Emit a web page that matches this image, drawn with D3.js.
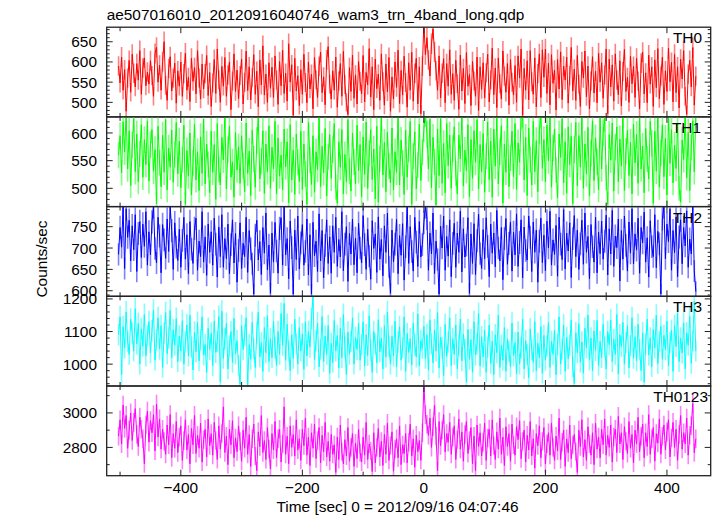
<!DOCTYPE html>
<html><head><meta charset="utf-8">
<script src="https://cdn.jsdelivr.net/npm/d3@7/dist/d3.min.js"></script>
<style>
body{margin:0;background:#fff}
svg{display:block}
text{font-family:"Liberation Sans",Arial,Helvetica,sans-serif;fill:#000}
</style>
</head><body>
<svg id="chart" width="717" height="516"></svg>
<script>
// ---- data (light curves, 2.5 s bins starting at t = -502.5 s) ----
const tStart = -502.5, tBin = 2.5;
const titleText = "ae507016010_20120916040746_wam3_trn_4band_long.qdp";
const xLabel = "Time [sec] 0 = 2012/09/16 04:07:46";
const yLabel = "Counts/sec";
const bandNames = ["TH0", "TH1", "TH2", "TH3", "TH0123"];
const xTickLabels = [-400, -200, 0, 200, 400];

const th0 = [
590,548,612,530,581,478,560,604,525,619,572,538,596,555,628,520,585,610,541,575,
545,603,566,515,621,636,550,592,530,601,650,542,505,584,613,528,560,597,498,578,
540,600,515,571,622,530,562,502,609,552,586,521,628,560,508,595,533,571,616,517,
574,490,548,606,522,632,556,500,589,540,611,515,568,600,482,553,620,527,580,509,
566,607,496,550,627,529,588,506,561,618,520,577,489,605,543,640,518,570,500,598,
535,587,512,615,555,495,601,541,629,522,572,503,645,550,593,468,609,528,566,492,
581,520,619,549,499,600,533,570,484,611,556,512,589,624,524,563,494,605,638,545,
508,578,530,612,488,553,596,515,626,544,500,470,586,527,617,510,568,496,601,552,
521,616,501,574,543,633,513,588,482,607,534,570,505,620,551,493,595,526,611,478,
563,508,600,537,629,497,579,518,614,549,488,598,530,624,503,572,609,496,588,472,
590,695,618,660,605,565,645,682,625,578,530,615,511,572,608,499,596,540,630,520,
571,505,604,546,483,617,528,584,497,623,540,569,492,601,553,515,612,480,588,532,
598,511,573,619,501,556,634,519,585,487,610,546,508,627,565,525,596,493,606,550,
518,591,500,615,560,632,468,584,530,603,506,628,551,520,610,489,571,620,512,630,
562,632,522,597,494,618,547,580,481,606,533,625,507,590,555,612,498,566,636,528,
582,505,616,545,490,601,560,627,514,590,484,553,613,523,577,499,622,550,598,510,
568,632,472,607,538,593,503,620,555,519,603,491,576,631,527,562,500,614,546,589,
512,609,553,484,597,624,521,573,499,617,545,588,490,605,536,633,509,565,612,495,
578,527,634,551,599,501,619,524,588,486,607,558,628,515,470,570,604,538,636,493,
565];

const th1 = [
560,595,528,620,566,634,535,604,505,578,626,530,598,512,562,615,520,588,543,622,
513,579,606,531,570,472,612,546,503,596,529,624,497,573,538,605,511,561,619,526,
585,501,552,614,471,568,522,600,488,546,616,515,566,496,593,527,625,508,580,543,
492,603,529,579,480,617,534,506,592,551,634,499,570,612,520,548,484,601,533,575,
509,595,541,494,618,527,567,487,605,553,502,586,628,517,549,604,491,580,530,613,
500,574,535,621,490,591,522,560,497,607,539,584,474,615,515,569,489,598,547,512,
603,498,580,526,471,619,551,507,595,493,566,534,627,503,576,528,608,486,557,597,
518,570,617,502,473,584,538,606,490,561,512,624,531,495,600,548,508,614,532,579,
485,593,525,620,500,563,606,516,571,481,612,475,554,629,524,583,494,601,540,510,
609,497,566,529,633,506,587,546,489,605,520,571,621,471,558,602,499,542,616,514,
565,608,636,598,535,625,501,592,548,470,607,523,626,509,581,492,617,541,596,500,
572,611,527,490,596,553,631,504,569,532,615,485,588,518,604,547,624,499,579,530,
599,493,558,620,516,585,484,607,540,628,508,566,613,473,580,529,634,503,555,603,
521,617,498,582,547,630,635,515,592,487,609,552,506,621,530,586,494,604,633,536,
588,512,614,550,630,502,573,607,533,483,598,556,626,510,584,491,611,543,594,472,
570,619,505,595,538,632,500,580,526,610,486,563,622,514,591,548,497,628,535,601,
627,520,471,597,551,618,495,574,611,512,589,540,633,496,567,605,523,583,490,616,
546,597,509,627,535,576,492,608,553,517,621,581,473,603,531,634,502,564,615,521,
590,488,629,545,606,510,578,536,618,500,475,587,552,633,519,601,496,574,622,530,
634];

const th2 = [
685,748,702,797,652,792,725,765,670,752,696,778,645,734,762,678,756,704,785,660,
738,684,761,797,699,665,772,728,642,755,719,676,768,692,797,741,650,759,702,671,
744,655,718,772,674,731,640,762,697,664,746,770,648,716,680,785,667,726,636,756,
690,738,660,770,709,632,749,680,778,655,722,675,756,640,708,766,665,734,620,694,
759,652,711,680,772,643,741,698,663,592,730,765,672,715,638,748,688,782,649,707,
594,735,667,760,693,641,746,771,660,797,684,722,628,763,701,592,742,673,775,651,
712,755,660,692,768,637,731,592,760,682,716,645,780,670,741,630,706,766,664,726,
641,752,690,772,657,720,679,785,647,709,750,622,734,686,768,661,723,642,758,700,
665,776,708,650,744,681,627,764,699,733,643,773,674,720,635,752,690,782,656,594,
742,668,709,767,640,729,683,757,625,703,797,664,750,692,646,772,714,657,762,679,
708,760,797,770,648,735,686,782,640,716,673,592,751,700,775,648,727,681,766,633,
711,758,655,735,690,786,644,745,679,707,771,594,733,664,757,638,717,779,687,652,
743,675,771,704,633,756,688,735,656,788,700,670,748,626,722,769,662,711,761,646,
737,684,780,657,713,766,630,749,694,672,775,725,645,761,690,742,620,716,770,666,
730,647,763,700,786,660,719,685,753,634,772,709,673,790,651,735,693,759,631,722,
776,680,742,650,710,765,662,782,690,727,628,755,703,667,772,642,737,687,763,674,
716,777,637,745,686,788,657,728,701,768,623,741,674,775,706,646,761,688,792,663,
733,695,770,641,748,712,784,667,724,632,764,703,680,778,654,739,710,592,769,797,
675,756,715,792,648,741,689,773,633,726,766,663,748,705,787,655,721,686,797,646,
598];

const th3 = [
1090,1145,968,1115,1050,1160,1070,1030,1138,1095,1040,1170,1062,1125,1000,1108,1055,1152,1025,1088,
1130,1035,1102,1165,1012,1075,1142,1046,1118,990,1094,1158,1032,1080,1165,1020,1105,1058,1140,1008,
1086,1040,1133,1000,1068,1120,1025,1150,1052,982,1098,1038,1128,1010,1075,1145,1028,1060,975,1110,
1045,1095,995,1132,1036,1070,1146,945,1162,1018,1078,1125,985,1055,1100,1005,1140,1032,1072,996,
938,1118,1045,1088,1142,937,1060,1015,1128,1048,990,1096,1160,1022,1066,978,1112,1035,1148,1008,
1078,1020,1131,1050,996,1100,1030,1155,1058,1186,1012,1122,1040,980,1090,1018,1138,1062,1000,1112,
1040,1092,984,1130,1025,1100,1052,1140,1208,1014,1072,1126,992,1046,1146,1008,1086,1030,1118,972,
1064,1005,1134,1040,1088,988,1110,1020,1152,1052,968,1098,1030,1070,1142,1000,1082,1045,1125,1012,
1060,1130,994,1090,1026,1148,1042,975,1100,1062,1004,1136,1038,1080,985,1118,1022,1160,1055,1000,
1086,1025,1132,992,1068,1115,1012,1050,1145,978,1094,1036,1078,998,1126,1058,1022,1154,995,1072,
1048,1116,1018,1090,982,1136,1062,1004,1105,1040,1158,988,1082,1050,965,1122,1024,1068,1142,996,
1078,1030,1120,986,1058,1138,1010,1092,1045,945,1106,1015,1075,975,1130,1028,1062,1155,994,1084,
1022,1104,975,1052,1120,1002,1070,968,1090,1035,1150,990,1058,1012,1112,978,1076,1040,992,1126,
1025,1066,970,1098,1000,1050,1138,985,1072,1030,958,1108,1044,1006,1130,980,1064,1020,1115,972,
1088,1012,1055,1128,990,1070,1030,1104,968,1060,1145,1000,1046,1120,978,1082,1016,1058,1136,992,
940,1096,1035,1124,1006,1068,972,1110,1050,1150,1012,1080,980,1102,1042,1134,996,1070,1020,1122,
1052,985,1100,1060,1135,1008,1076,1030,1152,970,1090,1054,1128,1000,1066,1118,988,1056,1142,1018,
1084,1010,1122,1045,980,1096,945,1062,1138,1028,1080,992,1106,1050,1150,1002,1070,1116,1015,1088,
1045,1132,995,1066,1104,978,1118,1054,1156,1008,1080,1034,1126,985,1096,1058,1146,1002,1072,1192,
1040];

const th0123 = [
2865,2960,2820,3045,2910,2985,2795,2900,3000,2840,2945,3025,2875,2805,2975,2905,2850,2705,2930,3010,
2830,2955,2885,2990,2780,3050,2860,2965,2790,2905,2835,2760,2930,2815,2990,2740,2880,2795,2950,2770,
2860,2925,2725,2840,2960,2785,2875,2705,2910,2815,2985,2765,2870,2795,2940,2715,2845,2905,2745,2965,
2810,2880,2755,2945,2840,2730,2925,2790,2880,3035,2770,2865,2700,2905,2815,2955,2740,2855,2775,2925,
2835,2720,2900,2795,2975,2760,2875,2690,2850,2935,2750,2665,2890,2805,2985,2770,2840,2730,2915,2790,
2675,2880,2785,2950,2740,2850,2905,2715,2820,3035,2760,2865,2705,2925,2800,2875,2750,2960,2785,2850,
2725,2905,2810,2970,2755,2860,2695,2885,2795,2935,2735,2840,2915,2710,2870,2775,2945,2745,2835,2720,
2875,2760,2815,2655,2860,2730,2930,2775,2705,2845,2750,2915,2720,2800,2880,2690,2825,2735,2905,2770,
2715,2860,2755,2945,2730,2820,2780,2660,2885,2710,2800,2910,2745,2835,2695,2875,2760,2940,2725,2810,
2890,2662,2790,2850,2740,2925,2700,2815,2765,2880,2710,2830,2935,2750,2850,2685,2870,2775,2840,2725,
2885,3160,2990,2935,2870,2970,2800,2920,3045,2865,2665,2950,2810,2900,2990,2775,2880,2830,2945,2760,
2860,2925,2730,2845,2965,2790,2890,2720,2875,2950,2765,2840,2915,2705,2865,2665,2930,2805,2885,2750,
2830,2940,2725,2855,2905,2750,2960,2810,2730,2890,2790,2970,2760,2860,2695,2920,2805,2880,2720,2935,
2815,2755,2920,2845,2955,2735,2835,2900,2715,2870,2785,2950,2750,2850,2680,2880,2810,2925,2740,2835,
2915,2705,2820,2885,2755,2940,2800,2725,2865,2780,2970,2730,2830,2900,2690,2850,2770,2930,2735,2815,
2875,2775,2655,2900,2805,2960,2745,2845,2725,2920,2820,2755,2885,2700,2940,2790,2860,2740,2905,2815,
2965,2755,2870,2800,2930,2715,2860,2905,2770,2980,2820,2885,2730,2920,2835,2765,2950,2795,2875,2710,
2900,2820,2975,2775,2865,2935,2740,2885,2805,2990,2760,2850,2915,2720,2880,2825,2965,2760,2865,2930,
2785,2890,2960,2745,2855,2945,2800,2905,2725,2875,2985,2790,2885,2820,2970,2755,2870,2925,3055,2770,
2850];

// ---- layout / style ----
const svg = d3.select("#chart");
const left = 106.7, right = 710.7;
const panelTop = 27.2, panelH = 89.7;
const x = d3.scaleLinear().domain([-522, 472]).range([left, right]);

const panels = [
  {values: th0,    domain: [464, 686],   major: 50,  minor: 10,  color: "#ff0000", light: "#ff8080", labelX: 702},
  {values: th1,    domain: [467, 629],   major: 50,  minor: 10,  color: "#00ff00", light: "#80ff80", labelX: 701},
  {values: th2,    domain: [587, 797],   major: 50,  minor: 10,  color: "#0000ff", light: "#8080ff", labelX: 702},
  {values: th3,    domain: [933, 1208],  major: 100, minor: 20,  color: "#00ffff", light: "#80ffff", labelX: 702},
  {values: th0123, domain: [2636, 3156], major: 200, minor: 100, color: "#ff00ff", light: "#ff80ff", labelX: 708}
];

const axisColor = "#222";
const fontSize = 15.4;

svg.append("text").attr("x", left).attr("y", 20)
  .style("font-size", fontSize + "px").text(titleText);

panels.forEach((p, k) => {
  const top = panelTop + k * panelH, bot = top + panelH;
  const y = d3.scaleLinear().domain(p.domain).range([bot, top]);
  const g = svg.append("g");
  const clipId = "clip" + k;
  svg.append("clipPath").attr("id", clipId).append("rect")
    .attr("x", left).attr("y", top).attr("width", right - left).attr("height", panelH);

  const pts = p.values.map((v, i) => ({t: tStart + i * tBin, v: v, e: Math.sqrt(v)}));
  const dg = g.append("g").attr("clip-path", `url(#${clipId})`);
  dg.append("path")
    .attr("d", pts.map(d => `M${x(d.t).toFixed(2)},${y(d.v - d.e).toFixed(2)}V${y(d.v + d.e).toFixed(2)}`).join(""))
    .attr("stroke", p.light).attr("stroke-width", 1.6).attr("fill", "none");
  dg.append("path")
    .attr("d", d3.line().x(d => x(d.t)).y(d => y(d.v))(pts))
    .attr("stroke", p.color).attr("stroke-width", 1).attr("fill", "none");

  const majors = d3.range(Math.ceil(p.domain[0] / p.major) * p.major, p.domain[1] + 0.001, p.major);
  const minors = d3.range(Math.ceil(p.domain[0] / p.minor) * p.minor, p.domain[1] + 0.001, p.minor)
    .filter(v => v % p.major !== 0);
  const tk = g.append("g").attr("stroke", axisColor).attr("stroke-width", 1);
  majors.forEach(v => {
    tk.append("line").attr("x1", left).attr("x2", left + 6).attr("y1", y(v)).attr("y2", y(v));
    tk.append("line").attr("x1", right).attr("x2", right - 6).attr("y1", y(v)).attr("y2", y(v));
  });
  minors.forEach(v => {
    tk.append("line").attr("x1", left).attr("x2", left + 3).attr("y1", y(v)).attr("y2", y(v));
    tk.append("line").attr("x1", right).attr("x2", right - 3).attr("y1", y(v)).attr("y2", y(v));
  });
  majors.forEach(v => {
    g.append("text").attr("x", 97).attr("y", y(v)).attr("dy", "0.36em")
      .attr("text-anchor", "end").style("font-size", fontSize + "px").text(v);
  });

  const xMaj = d3.range(-400, 401, 200);
  const xMin = d3.range(-500, 472, 100).filter(v => v % 200 !== 0);
  xMaj.forEach(v => {
    tk.append("line").attr("x1", x(v)).attr("x2", x(v)).attr("y1", top).attr("y2", top + 6);
    tk.append("line").attr("x1", x(v)).attr("x2", x(v)).attr("y1", bot).attr("y2", bot - 6);
  });
  xMin.forEach(v => {
    tk.append("line").attr("x1", x(v)).attr("x2", x(v)).attr("y1", top).attr("y2", top + 4);
    tk.append("line").attr("x1", x(v)).attr("x2", x(v)).attr("y1", bot).attr("y2", bot - 4);
  });

  g.append("rect").attr("x", left).attr("y", top).attr("width", right - left).attr("height", panelH)
    .attr("fill", "none").attr("stroke", axisColor).attr("stroke-width", 1.3);

  g.append("text").attr("x", p.labelX).attr("y", top + 16).attr("text-anchor", "end")
    .style("font-size", fontSize + "px").text(bandNames[k]);

  if (k === panels.length - 1) {
    xTickLabels.forEach(v => {
      g.append("text").attr("x", x(v)).attr("y", 493).attr("text-anchor", "middle")
        .style("font-size", fontSize + "px").text(v < 0 ? "\u2212" + Math.abs(v) : v);
    });
  }
});

svg.append("text").attr("x", 397.5).attr("y", 512).attr("text-anchor", "middle")
  .style("font-size", fontSize + "px").text(xLabel);
svg.append("text").attr("transform", "translate(46.5,259) rotate(-90)")
  .attr("text-anchor", "middle").style("font-size", fontSize + "px").text(yLabel);
</script>
</body></html>
